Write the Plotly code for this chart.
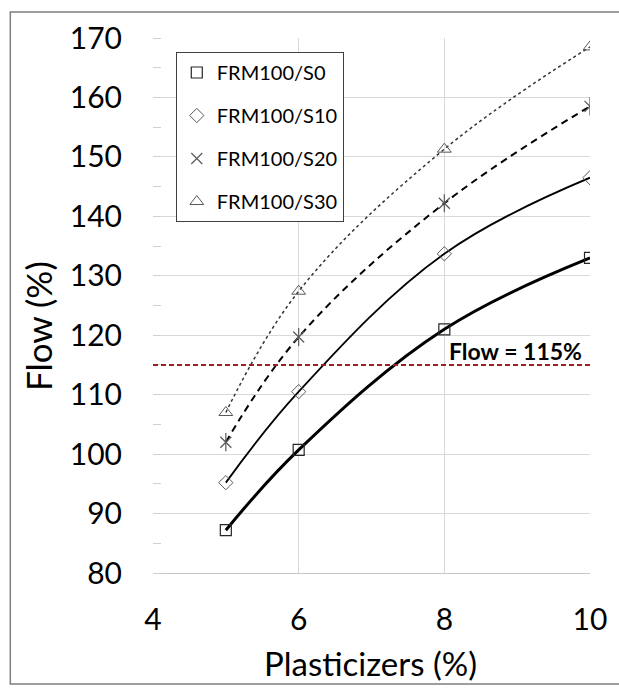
import plotly.graph_objects as go

# ---------------- data ----------------
plasticizer = [5, 6, 8, 10]
flow_s0 = [87.2, 100.7, 121.0, 133.0]
flow_s10 = [95.2, 110.5, 133.7, 146.5]
flow_s20 = [102.0, 119.7, 142.2, 158.5]
flow_s30 = [107.0, 127.4, 151.3, 168.5]
series_names = ["FRM100/S0", "FRM100/S10", "FRM100/S20", "FRM100/S30"]
x_ticks = [4, 6, 8, 10]
y_ticks = [80, 90, 100, 110, 120, 130, 140, 150, 160, 170]
threshold = 115
threshold_label = "Flow = 115%"

# ---------------- geometry ----------------
W, H = 619, 688
PL, PR, PT, PB = 153, 594, 38, 573  # plot area in pixels
PW, PH = PR - PL, PB - PT


def px_x(p):
    return (p - PL) / PW


def px_y(p):
    return (PB - p) / PH


FONT = "Lato"

fig = go.Figure()

line_styles = [
    dict(color="#000000", width=3, dash="solid"),
    dict(color="#000000", width=1.8, dash="solid"),
    dict(color="#000000", width=2, dash="7px,5px"),
    dict(color="#333333", width=1.5, dash="dot"),
]
marker_styles = [
    dict(symbol="square-open", size=11, color="#262626", line=dict(width=1.2)),
    dict(symbol="diamond-open", size=11, color="#595959", line=dict(width=1)),
    dict(symbol="x-thin-open", size=11, color="#595959", line=dict(width=1.2)),
    dict(symbol="triangle-up-open", size=12, color="#595959", line=dict(width=1)),
]
all_series = [flow_s0, flow_s10, flow_s20, flow_s30]

# trend curves
for ys, ls in zip(all_series, line_styles):
    fig.add_trace(go.Scatter(x=plasticizer, y=ys, mode="lines",
                             line=dict(shape="spline", smoothing=1.1, **ls),
                             showlegend=False, hoverinfo="skip"))

# vertical stroke of the star marker for S20
fig.add_trace(go.Scatter(x=plasticizer, y=flow_s20, mode="markers",
                         marker=dict(symbol="line-ns-open", size=13, color="#595959",
                                     line=dict(width=1.2, color="#595959")),
                         showlegend=False, hoverinfo="skip"))

# markers with legend
for i, (ys, ms, name) in enumerate(zip(all_series, marker_styles, series_names)):
    fig.add_trace(go.Scatter(x=plasticizer, y=ys, mode="markers", name=name,
                             marker=dict(symbol=ms["symbol"], size=ms["size"],
                                         color=ms["color"],
                                         line=dict(width=ms["line"]["width"], color=ms["color"])),
                             legendgroup=name))

# threshold line
fig.add_shape(type="line", xref="paper", yref="y", x0=0, x1=1, y0=threshold, y1=threshold,
              line=dict(color="#9E1F1F", width=2, dash="5px,3px"))
fig.add_annotation(xref="paper", yref="y", x=px_x(588), y=threshold, yshift=14,
                   xanchor="right", yanchor="middle", text="<b>%s</b>" % threshold_label,
                   showarrow=False, font=dict(family=FONT, size=23, color="#000000"))

# outer border
fig.add_shape(type="rect", xref="paper", yref="paper",
              x0=px_x(9), x1=px_x(640), y0=px_y(684), y1=px_y(12),
              line=dict(color="#7f7f7f", width=1.5), layer="below")

# axis titles
fig.add_annotation(xref="paper", yref="paper", x=px_x(372), y=px_y(663),
                   text="Plasticizers (%)", showarrow=False, xanchor="center", yanchor="middle",
                   font=dict(family=FONT, size=33, color="#000000"))
fig.add_annotation(xref="paper", yref="paper", x=px_x(37), y=px_y(326),
                   text="Flow (%)", showarrow=False, textangle=-90,
                   xanchor="center", yanchor="middle",
                   font=dict(family=FONT, size=35, color="#000000"))

fig.update_layout(
    width=W, height=H,
    margin=dict(l=PL, r=W - PR, t=PT, b=H - PB),
    paper_bgcolor="white", plot_bgcolor="white",
    font=dict(family=FONT, color="#000000"),
    legend=dict(x=px_x(176), y=px_y(52), xanchor="left", yanchor="top",
                bgcolor="white", bordercolor="#404040", borderwidth=1,
                font=dict(family=FONT, size=20, color="#000000"),
                traceorder="grouped", tracegroupgap=14, itemwidth=30),
    xaxis=dict(range=[4, 10], tickvals=x_ticks, ticktext=[str(v) for v in x_ticks],
               showgrid=True, gridcolor="#d9d9d9", gridwidth=1,
               showline=True, linecolor="#c8c8c8", linewidth=1,
               zeroline=False, ticks="", ticklabelstandoff=20,
               tickfont=dict(family=FONT, size=30, color="#000000")),
    yaxis=dict(range=[80, 170], tickvals=y_ticks, ticktext=[str(v) for v in y_ticks],
               showgrid=True, gridcolor="#d9d9d9", gridwidth=1,
               showline=False, zeroline=False, ticks="", ticklabelstandoff=30,
               tickfont=dict(family=FONT, size=30, color="#000000"),
               minor=dict(dtick=5, tick0=80, ticks="inside", ticklen=8,
                          tickcolor="#d0d0d0", showgrid=False)),
)

fig.write_html("out.html")
